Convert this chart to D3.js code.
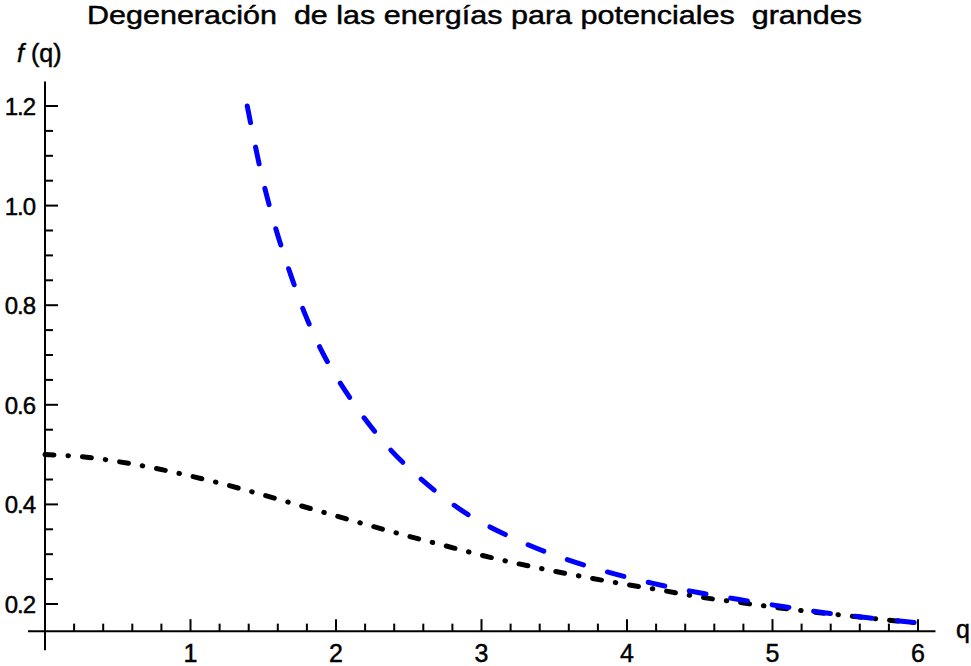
<!DOCTYPE html>
<html>
<head>
<meta charset="utf-8">
<script src="https://cdn.jsdelivr.net/npm/d3@7"></script>
<style>
  html, body { margin: 0; padding: 0; background: #fff; }
  svg { display: block; }
  text { font-family: "Liberation Sans", Arial, sans-serif; fill: #000; stroke: #000; stroke-width: 0.45px; }
</style>
</head>
<body>
<svg id="chart" width="971" height="666"></svg>
<script>
// ---- Data ----
const titleText = "Degeneración  de las energías para potenciales  grandes";
const yAxisLabel = "f";
const xAxisLabel = "q";

const blackQ = [0, 0.25, 0.5, 0.75, 1.0, 1.25, 1.5, 1.75, 2.0, 2.25, 2.5, 2.75, 3.0,
                3.25, 3.5, 3.75, 4.0, 4.25, 4.5, 4.75, 5.0, 5.25, 5.5, 5.75, 6.0];
const blackF = [0.500, 0.496, 0.486, 0.473, 0.457, 0.439, 0.419, 0.398, 0.377, 0.356,
                0.336, 0.317, 0.298, 0.281, 0.266, 0.252, 0.239, 0.227, 0.214, 0.204,
                0.194, 0.185, 0.177, 0.169, 0.162];

const blueQ = [1.39, 1.49, 1.59, 1.69, 1.79, 1.89, 1.99, 2.19, 2.38, 2.58, 2.78, 2.98,
               3.28, 3.57, 3.87, 4.17, 4.47, 4.77, 5.07, 5.37, 5.67, 6.0];
const blueF = [1.200, 1.060, 0.950, 0.860, 0.780, 0.715, 0.662, 0.575, 0.508, 0.452,
               0.405, 0.367, 0.324, 0.291, 0.264, 0.242, 0.224, 0.209, 0.195, 0.182,
               0.172, 0.162];

const xMajorTicks = [1, 2, 3, 4, 5, 6];
const yMajorTicks = [0.2, 0.4, 0.6, 0.8, 1.0, 1.2];
const yTickLabels = ["0.2", "0.4", "0.6", "0.8", "1.0", "1.2"];

// ---- Scales ----
const x = d3.scaleLinear().domain([0, 6]).range([45, 918]);
const y = d3.scaleLinear().domain([0.2, 1.2]).range([604, 106]);

const svg = d3.select("#chart");

// minor tick positions from the scales
const xMinor = d3.range(1, 31).map(i => +(i * 0.2).toFixed(2)).filter(v => !xMajorTicks.some(m => Math.abs(m - v) < 1e-6));
const yMinor = d3.range(5, 25).map(i => +(i * 0.05).toFixed(2)).filter(v => !yMajorTicks.some(m => Math.abs(m - v) < 1e-6));

const axisY0 = y(0.1455);   // where the horizontal axis crosses
const axisX0 = x(0);

// ---- Axes lines ----
svg.append("line").attr("x1", axisX0 - 17).attr("x2", x(6.12))
  .attr("y1", axisY0).attr("y2", axisY0)
  .attr("stroke", "#000").attr("stroke-width", 2);
svg.append("line").attr("x1", axisX0).attr("x2", axisX0)
  .attr("y1", y(1.249)).attr("y2", axisY0 + 19)
  .attr("stroke", "#000").attr("stroke-width", 2);

// x ticks (pointing up)
svg.selectAll(".xmaj").data(xMajorTicks).enter().append("line")
  .attr("x1", d => x(d)).attr("x2", d => x(d))
  .attr("y1", axisY0).attr("y2", axisY0 - 12)
  .attr("stroke", "#000").attr("stroke-width", 2);
svg.selectAll(".xmin").data(xMinor).enter().append("line")
  .attr("x1", d => x(d)).attr("x2", d => x(d))
  .attr("y1", axisY0).attr("y2", axisY0 - 7.5)
  .attr("stroke", "#000").attr("stroke-width", 2);
svg.selectAll(".xlab").data(xMajorTicks).enter().append("text")
  .attr("x", d => x(d)).attr("y", 662)
  .attr("text-anchor", "middle").attr("font-size", 25)
  .text(d => d3.format("d")(d));

// y ticks (pointing right)
svg.selectAll(".ymaj").data(yMajorTicks).enter().append("line")
  .attr("x1", axisX0).attr("x2", axisX0 + 13)
  .attr("y1", d => y(d)).attr("y2", d => y(d))
  .attr("stroke", "#000").attr("stroke-width", 2);
svg.selectAll(".ymin").data(yMinor).enter().append("line")
  .attr("x1", axisX0).attr("x2", axisX0 + 8)
  .attr("y1", d => y(d)).attr("y2", d => y(d))
  .attr("stroke", "#000").attr("stroke-width", 2);
svg.selectAll(".ylab").data(yMajorTicks).enter().append("text")
  .attr("x", 35).attr("y", d => y(d) + 9)
  .attr("text-anchor", "end").attr("font-size", 24)
  .attr("letter-spacing", -1)
  .text((d, i) => yTickLabels[i]);

// ---- Curves ----
const line = d3.line().x(d => x(d[0])).y(d => y(d[1])).curve(d3.curveCatmullRom.alpha(0.5));

svg.append("path")
  .datum(blackQ.map((q, i) => [q, blackF[i]]))
  .attr("d", line)
  .attr("fill", "none").attr("stroke", "#000").attr("stroke-width", 5)
  .attr("stroke-linecap", "round")
  .attr("stroke-dasharray", "9,14,0.5,14");

svg.append("path")
  .datum(blueQ.map((q, i) => [q, blueF[i]]))
  .attr("d", line)
  .attr("fill", "none").attr("stroke", "#0000ff").attr("stroke-width", 5)
  .attr("stroke-linecap", "round")
  .attr("stroke-dasharray", "17,25");

// ---- Labels ----
svg.append("text")
  .attr("x", 87).attr("y", 24)
  .attr("font-size", 25)
  .attr("xml:space", "preserve")
  .style("white-space", "pre")
  .attr("textLength", 775).attr("lengthAdjust", "spacingAndGlyphs")
  .text(titleText);

const fl = svg.append("text").attr("x", 17).attr("y", 62).attr("font-size", 25)
  .style("white-space", "pre");
fl.append("tspan").attr("font-style", "italic").text(yAxisLabel);
fl.append("tspan").text(" (q)");

svg.append("text").attr("x", 956).attr("y", 638).attr("font-size", 25)
  .text(xAxisLabel);
</script>
</body>
</html>
